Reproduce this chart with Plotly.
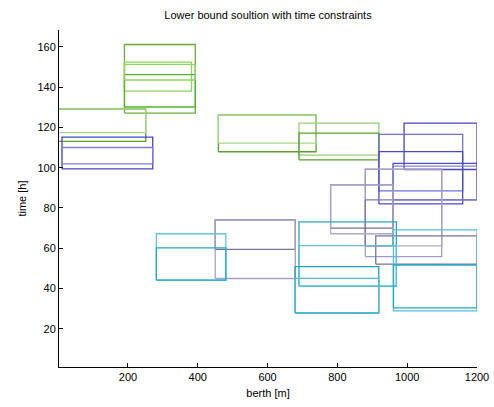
import plotly.graph_objects as go

# Berth allocation rectangles: each ship occupies [berth_start, berth_end] x [time_start, time_end]
berth_start = [190, 190, 190, 190, 0, 0, 459, 459, 690, 690,
               11, 11, 991, 919, 919, 959.5, 959.5,
               880, 880, 880, 780.6, 780.6, 910, 450, 450,
               690, 690, 678.6, 678.6, 960.6, 960.6, 281.4, 281.4]
berth_end = [393, 382, 393, 393, 251, 251, 739, 739, 919, 919,
             271, 271, 1200, 1159, 1159, 1200, 1200,
             1099, 1099, 959, 959.4, 959.4, 1200, 679.4, 679.4,
             969, 969, 918.6, 918.6, 1200, 1200, 480.6, 480.6]
time_start = [127.1, 138.0, 130.1, 143.5, 113.0, 117.4, 107.9, 112.2, 106.2, 103.9,
              99.4, 101.9, 99.1, 88.5, 82.0, 84.0, 84.0,
              61.2, 55.9, 61.2, 70.0, 67.2, 52.1, 59.5, 45.0,
              41.2, 41.2, 27.9, 27.9, 28.9, 30.4, 44.2, 44.2]
time_end = [161.1, 152.4, 146.2, 151.2, 129.1, 129.1, 126.2, 126.2, 122.1, 117.1,
            115.2, 110.0, 122.1, 116.5, 108.0, 102.1, 100.8,
            99.3, 99.3, 84.0, 91.5, 91.5, 66.2, 74.1, 74.1,
            73.1, 61.3, 50.9, 45.1, 69.1, 51.7, 67.2, 60.2]

# Outline colour per ship
ship_colors = ["#6aaa3a", "#8fd45f", "#4fb828", "#8fd45f", "#5a9e2e", "#a6d88a",
               "#5a9e2e", "#a6d88a", "#9ccc7a", "#5a9e2e",
               "#4444cc", "#7d7de0", "#4545c8", "#7070d8", "#4a4ad0", "#4a4ad0", "#8080dd",
               "#b4aed0", "#a49cc4", "#8078a8", "#7a70a0", "#b0a8cc", "#7a70a0",
               "#7a70a0", "#a69ec4",
               "#22a8c8", "#60c0d8", "#1fa0c0", "#50b8d0", "#50c0d6", "#22a8c8",
               "#60c8d8", "#20a8c8"]

x_ticks = [200, 400, 600, 800, 1000, 1200]
y_ticks = [20, 40, 60, 80, 100, 120, 140, 160]

fig = go.Figure()
for x0, x1, y0, y1, c in zip(berth_start, berth_end, time_start, time_end, ship_colors):
    fig.add_trace(go.Scatter(
        x=[x0, x1, x1, x0, x0],
        y=[y0, y0, y1, y1, y0],
        mode="lines",
        line=dict(color=c, width=1.3),
        hoverinfo="skip",
        showlegend=False,
    ))

font = dict(family="Liberation Sans, Arial, sans-serif", size=11, color="black")

fig.update_layout(
    width=494, height=407,
    margin=dict(l=59, r=17, t=30, b=40),
    paper_bgcolor="white", plot_bgcolor="white",
    font=font,
    title=dict(text="Lower bound soultion with time constraints",
               x=0.5, xanchor="center", xref="paper",
               y=1 - 15 / 407, yanchor="middle",
               font=dict(family="Liberation Sans, Arial, sans-serif", size=11, color="black")),
    showlegend=False,
)
fig.update_xaxes(
    range=[2.5, 1200], tickvals=x_ticks, ticktext=[str(v) for v in x_ticks],
    showgrid=False, zeroline=False, automargin=False,
    showline=True, linecolor="black", linewidth=1,
    ticks="inside", ticklen=4, tickcolor="black",
    title=dict(text="berth [m]", standoff=7, font=font),
    tickfont=font,
)
fig.update_yaxes(
    range=[1.1, 168.3], tickvals=y_ticks, ticktext=[str(v) for v in y_ticks],
    showgrid=False, zeroline=False, automargin=False,
    showline=True, linecolor="black", linewidth=1,
    ticks="inside", ticklen=4, tickcolor="black",
    title=dict(text="time [h]", standoff=8, font=font),
    tickfont=font,
)

fig.write_html("out.html")
